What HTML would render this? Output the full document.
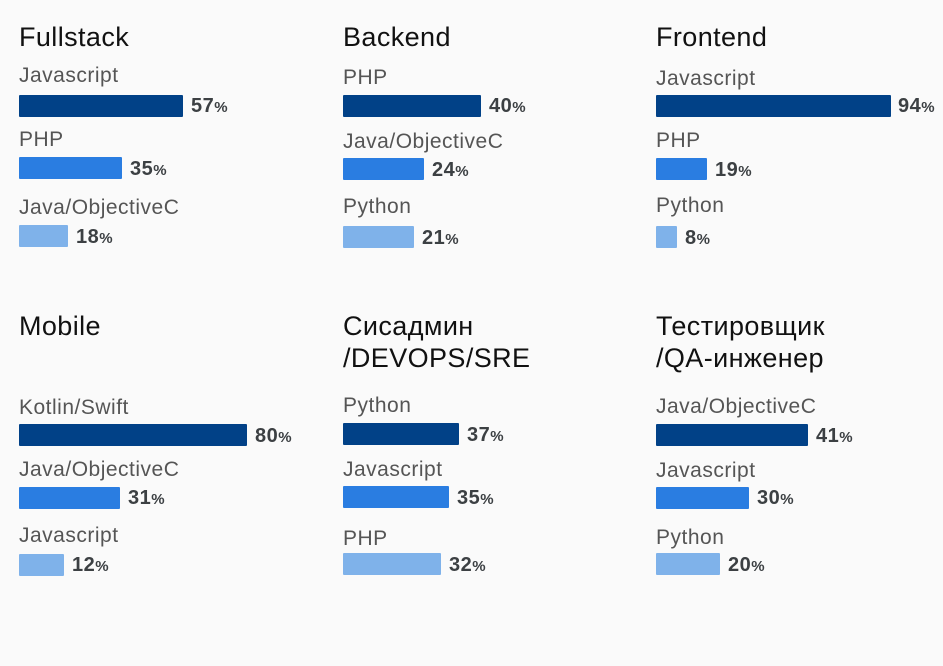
<!DOCTYPE html>
<html><head><meta charset="utf-8"><style>
body{margin:0;width:943px;height:666px;background:#fafafa;position:relative;overflow:hidden;font-family:"Liberation Sans","Noto Sans CJK SC",sans-serif}
.t{position:absolute;font-size:27px;line-height:30px;color:#111;white-space:nowrap;letter-spacing:0.4px}
.l{position:absolute;font-size:21px;line-height:24px;color:#555;white-space:nowrap;letter-spacing:0.5px}
.b{position:absolute;height:22px;border-radius:1px}
.p{position:absolute;font-size:20px;line-height:22px;font-weight:bold;color:#3c4043;white-space:nowrap;letter-spacing:0.5px}
.p small{font-size:15px;font-weight:bold;letter-spacing:0}
.c1{background:#014187}.c2{background:#2a7de1}.c3{background:#7fb2ea}
</style></head><body>
<div class="t" style="left:19px;top:22px">Fullstack</div>
<div class="l" style="left:19px;top:64px">Javascript</div>
<div class="b c1" style="left:19px;top:95px;width:164px"></div><div class="p" style="left:191px;top:95px">57<small>%</small></div>
<div class="l" style="left:19px;top:128px">PHP</div>
<div class="b c2" style="left:19px;top:157px;width:103px"></div><div class="p" style="left:130px;top:158px">35<small>%</small></div>
<div class="l" style="left:19px;top:196px">Java/ObjectiveC</div>
<div class="b c3" style="left:19px;top:225px;width:49px"></div><div class="p" style="left:76px;top:226px">18<small>%</small></div>

<div class="t" style="left:343px;top:22px">Backend</div>
<div class="l" style="left:343px;top:66px">PHP</div>
<div class="b c1" style="left:343px;top:95px;width:138px"></div><div class="p" style="left:489px;top:95px">40<small>%</small></div>
<div class="l" style="left:343px;top:130px">Java/ObjectiveC</div>
<div class="b c2" style="left:343px;top:158px;width:81px"></div><div class="p" style="left:432px;top:159px">24<small>%</small></div>
<div class="l" style="left:343px;top:195px">Python</div>
<div class="b c3" style="left:343px;top:226px;width:71px"></div><div class="p" style="left:422px;top:227px">21<small>%</small></div>

<div class="t" style="left:656px;top:22px">Frontend</div>
<div class="l" style="left:656px;top:67px">Javascript</div>
<div class="b c1" style="left:656px;top:95px;width:235px"></div><div class="p" style="left:898px;top:95px">94<small>%</small></div>
<div class="l" style="left:656px;top:129px">PHP</div>
<div class="b c2" style="left:656px;top:158px;width:51px"></div><div class="p" style="left:715px;top:159px">19<small>%</small></div>
<div class="l" style="left:656px;top:194px">Python</div>
<div class="b c3" style="left:656px;top:226px;width:21px"></div><div class="p" style="left:685px;top:227px">8<small>%</small></div>

<div class="t" style="left:19px;top:311px">Mobile</div>
<div class="l" style="left:19px;top:396px">Kotlin/Swift</div>
<div class="b c1" style="left:19px;top:424px;width:228px"></div><div class="p" style="left:255px;top:425px">80<small>%</small></div>
<div class="l" style="left:19px;top:458px">Java/ObjectiveC</div>
<div class="b c2" style="left:19px;top:487px;width:101px"></div><div class="p" style="left:128px;top:487px">31<small>%</small></div>
<div class="l" style="left:19px;top:524px">Javascript</div>
<div class="b c3" style="left:19px;top:554px;width:45px"></div><div class="p" style="left:72px;top:554px">12<small>%</small></div>

<div class="t" style="left:343px;top:311px">Сисадмин</div>
<div class="t" style="left:343px;top:343px">/DEVOPS/SRE</div>
<div class="l" style="left:343px;top:394px">Python</div>
<div class="b c1" style="left:343px;top:423px;width:116px"></div><div class="p" style="left:467px;top:424px">37<small>%</small></div>
<div class="l" style="left:343px;top:458px">Javascript</div>
<div class="b c2" style="left:343px;top:486px;width:106px"></div><div class="p" style="left:457px;top:487px">35<small>%</small></div>
<div class="l" style="left:343px;top:527px">PHP</div>
<div class="b c3" style="left:343px;top:553px;width:98px"></div><div class="p" style="left:449px;top:554px">32<small>%</small></div>

<div class="t" style="left:656px;top:311px">Тестировщик</div>
<div class="t" style="left:656px;top:343px">/QA-инженер</div>
<div class="l" style="left:656px;top:395px">Java/ObjectiveC</div>
<div class="b c1" style="left:656px;top:424px;width:152px"></div><div class="p" style="left:816px;top:425px">41<small>%</small></div>
<div class="l" style="left:656px;top:459px">Javascript</div>
<div class="b c2" style="left:656px;top:487px;width:93px"></div><div class="p" style="left:757px;top:487px">30<small>%</small></div>
<div class="l" style="left:656px;top:526px">Python</div>
<div class="b c3" style="left:656px;top:553px;width:64px"></div><div class="p" style="left:728px;top:554px">20<small>%</small></div>
</body></html>
